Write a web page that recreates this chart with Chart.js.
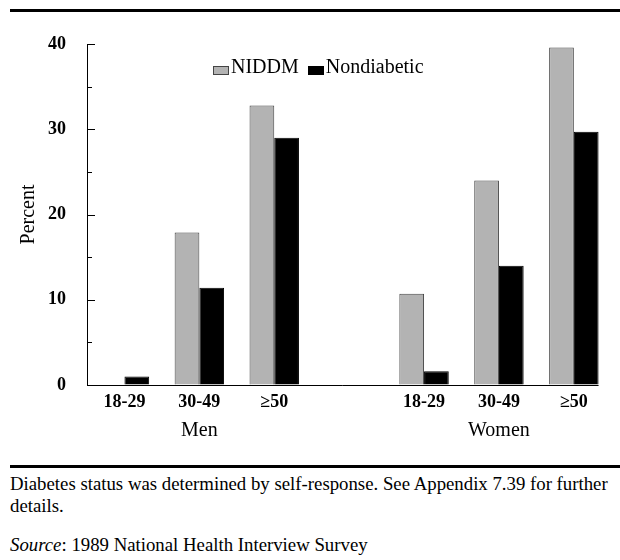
<!DOCTYPE html>
<html>
<head>
<meta charset="utf-8">
<script src="https://cdn.jsdelivr.net/npm/chart.js@4.4.1/dist/chart.umd.min.js"></script>
<style>
  body { margin: 0; background: #fff; }
  #page { position: relative; width: 620px; height: 560px; background: #fff; overflow: hidden; }
  .rule { position: absolute; left: 10px; right: 0; height: 3px; background: #000; }
  #chart { position: absolute; left: 0; top: 0; }
  #legend { position: absolute; left: 213px; top: 56px; font: 20px "Liberation Serif", serif; line-height: 20px; color: #000; white-space: nowrap; }
  #legend .item { margin-right: 9px; }
  #legend .box { display: inline-block; width: 16px; height: 9px; box-sizing: border-box; border: 1px solid #444; vertical-align: -2px; margin-right: 2px; }
  #notes { position: absolute; left: 10px; top: 473px; font: 18.8px "Liberation Serif", serif; line-height: 22px; color: #000; white-space: nowrap; }
  #notes p { margin: 0; }
  #notes p + p { margin-top: 17px; }
</style>
</head>
<body>
<div id="page">
  <div class="rule" style="top:9px"></div>
  <canvas id="chart" width="620" height="450"></canvas>
  <div id="legend"></div>
  <div class="rule" style="top:465px"></div>
  <div id="notes">
    <p>Diabetes status was determined by self-response. See Appendix 7.39 for further<br>details.</p>
    <p><i>Source</i>: 1989 National Health Interview Survey</p>
  </div>
</div>
<script>
// age groups, with an empty slot between the two sexes
const ageGroups = ["18-29", "30-49", "\u226550", "", "18-29", "30-49", "\u226550"];
const niddm = [null, 17.9, 32.8, null, 10.7, 24.0, 39.6];
const nondiabetic = [1.0, 11.4, 29.0, null, 1.6, 14.0, 29.7];
const sexGroups = ["Men", "Women"];
const sexGroupAt = [1, 5]; // index of the age group each sex label sits under
const yTicks = [0, 10, 20, 30, 40];

const serif = "'Liberation Serif', 'Times New Roman', serif";

// inward y ticks, the baseline and the Men / Women labels
const axisExtras = {
  id: "axisExtras",
  afterDatasetsDraw(chart) {
    const { ctx, chartArea } = chart;
    const x = chart.scales.x, y = chart.scales.y;
    ctx.save();
    ctx.strokeStyle = "#000";
    ctx.lineWidth = 1;

    const major = yTicks[1] - yTicks[0];
    for (let v = y.min; v <= y.max; v += major / 2) {
      const py = Math.round(y.getPixelForValue(v)) + 0.5;
      const len = v % major === 0 ? 8 : 5;
      ctx.beginPath();
      ctx.moveTo(chartArea.left, py);
      ctx.lineTo(chartArea.left + len, py);
      ctx.stroke();
    }

    // baseline stops at the right edge of the last bar
    const meta = chart.getDatasetMeta(chart.data.datasets.length - 1);
    const last = meta.data[meta.data.length - 1];
    const by = Math.round(y.getPixelForValue(0)) + 0.5;
    ctx.beginPath();
    ctx.moveTo(chartArea.left, by);
    ctx.lineTo(last.x + last.width / 2, by);
    ctx.stroke();

    ctx.fillStyle = "#000";
    ctx.font = "20px " + serif;
    ctx.textAlign = "center";
    ctx.textBaseline = "alphabetic";
    sexGroups.forEach((g, i) => {
      ctx.fillText(g, x.getPixelForValue(sexGroupAt[i]), x.top + 51);
    });
    ctx.restore();
  }
};

const chart = new Chart(document.getElementById("chart"), {
  type: "bar",
  data: {
    labels: ageGroups,
    datasets: [
      {
        label: "NIDDM",
        data: niddm,
        backgroundColor: "#b3b3b3",
        borderColor: "#444",
        borderWidth: 1
      },
      {
        label: "Nondiabetic",
        data: nondiabetic,
        backgroundColor: "#000",
        borderColor: "#000",
        borderWidth: 1
      }
    ]
  },
  options: {
    responsive: false,
    animation: false,
    devicePixelRatio: 1,
    layout: { padding: { top: 44, right: 8.7, left: 0, bottom: 5 } },
    datasets: { bar: { categoryPercentage: 0.66, barPercentage: 1.0 } },
    plugins: { legend: { display: false }, tooltip: { enabled: false } },
    scales: {
      x: {
        offset: true,
        grid: { display: false, drawTicks: false },
        border: { display: false },
        ticks: {
          color: "#000",
          font: { family: serif, size: 18, weight: "bold" },
          padding: 7,
          maxRotation: 0,
          autoSkip: false
        },
        afterFit(scale) { scale.height = 60; }
      },
      y: {
        min: 0,
        max: 40,
        grid: { display: true, drawOnChartArea: false, drawTicks: false },
        border: { display: true, color: "#000", width: 1 },
        ticks: {
          stepSize: 10,
          color: "#000",
          font: { family: serif, size: 18, weight: "bold" },
          padding: 21
        },
        title: {
          display: true,
          text: "Percent",
          color: "#000",
          font: { family: serif, size: 20 },
          padding: { top: 17, bottom: 0 }
        },
        afterFit(scale) { scale.width = 87; }
      }
    }
  },
  plugins: [axisExtras]
});

// legend built from the datasets
const legend = document.getElementById("legend");
chart.data.datasets.forEach(ds => {
  const item = document.createElement("span");
  item.className = "item";
  const box = document.createElement("span");
  box.className = "box";
  box.style.background = ds.backgroundColor;
  box.style.borderColor = ds.borderColor;
  item.appendChild(box);
  item.appendChild(document.createTextNode(ds.label));
  legend.appendChild(item);
});
</script>
</body>
</html>
